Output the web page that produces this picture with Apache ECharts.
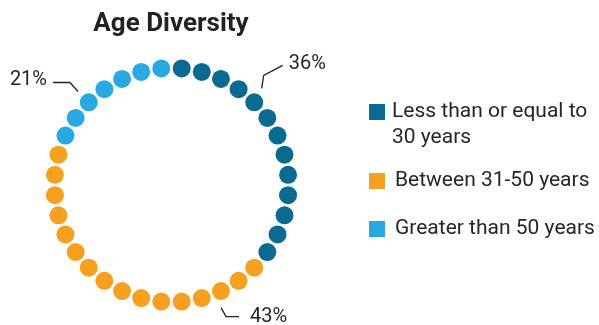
<!DOCTYPE html>
<html>
<head>
<meta charset="utf-8">
<script src="https://cdn.jsdelivr.net/npm/echarts@6/dist/echarts.min.js"></script>
<style>
  html, body { margin: 0; padding: 0; background: #fff; }
  #chart { width: 599px; height: 325px; }
</style>
</head>
<body>
<div id="chart"></div>
<script>
const categories = ['Less than or equal to 30 years', 'Between 31-50 years', 'Greater than 50 years'];
const dotCounts = [13, 16, 7];
const percentages = [36, 43, 21];
const colors = ['#0A6A91', '#F5A01F', '#29A9E1'];

const chart = echarts.init(document.getElementById('chart'));

const totalDots = dotCounts.reduce((a, b) => a + b, 0);
let dotIdx = 0;
const dotSeries = categories.map((name, i) => {
  const pts = [];
  for (let k = 0; k < dotCounts[i]; k++) {
    pts.push([1, (dotIdx + 0.5) * 360 / totalDots]);
    dotIdx++;
  }
  return {
    name: name,
    type: 'scatter',
    coordinateSystem: 'polar',
    symbolSize: 18,
    clip: false,
    itemStyle: { color: colors[i], opacity: 1 },
    emphasis: { disabled: true },
    data: pts
  };
});

// where each leader line starts (angle on the ring) and how it bends
const leaderAngles = [43, 158, 315];
const leaderShapes = [
  { elbow: [2, -13], end: [21, -23], text: [6, -1], align: 'left' },
  { elbow: [5, 9], end: [18, 9], text: [11, 0], align: 'left' },
  { elbow: [-8, -9], end: [-25, -9], text: [-6, -3], align: 'right' }
];

const labelSeries = {
  type: 'custom',
  coordinateSystem: 'polar',
  silent: true,
  data: percentages.map((p, i) => [1.13, leaderAngles[i], p]),
  renderItem: function (params, api) {
    const s = leaderShapes[params.dataIndex];
    const p = api.coord([api.value(0), api.value(1)]);
    const e = [p[0] + s.elbow[0], p[1] + s.elbow[1]];
    const f = [p[0] + s.end[0], p[1] + s.end[1]];
    return {
      type: 'group',
      children: [
        {
          type: 'polyline',
          shape: { points: [p, e, f] },
          style: { stroke: '#222', lineWidth: 1.3, fill: null }
        },
        {
          type: 'text',
          x: f[0] + s.text[0],
          y: f[1] + s.text[1],
          style: {
            text: api.value(2) + '%',
            fill: '#262626',
            font: '20px Roboto',
            align: s.align,
            verticalAlign: 'middle'
          }
        }
      ]
    };
  }
};

const legendText = { fontFamily: 'Roboto', fontSize: 21, color: '#262626', lineHeight: 26 };

const option = {
  animation: false,
  title: {
    text: 'Age Diversity',
    left: 171,
    top: 11,
    padding: 0,
    textAlign: 'center',
    textStyle: { fontFamily: 'Roboto', fontSize: 26, fontWeight: 'bold', color: '#222' }
  },
  legend: [
    {
      data: [categories[0]],
      orient: 'vertical',
      left: 369,
      top: 73,
      padding: 0,
      icon: 'rect',
      itemWidth: 16,
      itemHeight: 16,
      selectedMode: false,
      // empty first line keeps the icon level with "Less than..."
      formatter: (name) => '\n' + name.replace(' 30', '\n30'),
      textStyle: Object.assign({}, legendText, { padding: [0, 0, 0, 2] })
    },
    {
      data: [categories[1], categories[2]],
      orient: 'vertical',
      left: 369,
      top: 168,
      padding: 0,
      itemGap: 22,
      icon: 'rect',
      itemWidth: 16,
      itemHeight: 16,
      selectedMode: false,
      textStyle: Object.assign({}, legendText, { padding: [0, 0, 0, 5] })
    }
  ],
  polar: { center: [171.5, 185], radius: 117 },
  angleAxis: {
    type: 'value',
    min: 0,
    max: 360,
    startAngle: 90,
    clockwise: true,
    axisLine: { show: false },
    axisTick: { show: false },
    axisLabel: { show: false },
    splitLine: { show: false }
  },
  radiusAxis: {
    type: 'value',
    min: 0,
    max: 1,
    axisLine: { show: false },
    axisTick: { show: false },
    axisLabel: { show: false },
    splitLine: { show: false }
  },
  series: [...dotSeries, labelSeries]
};

chart.setOption(option);
</script>
</body>
</html>
